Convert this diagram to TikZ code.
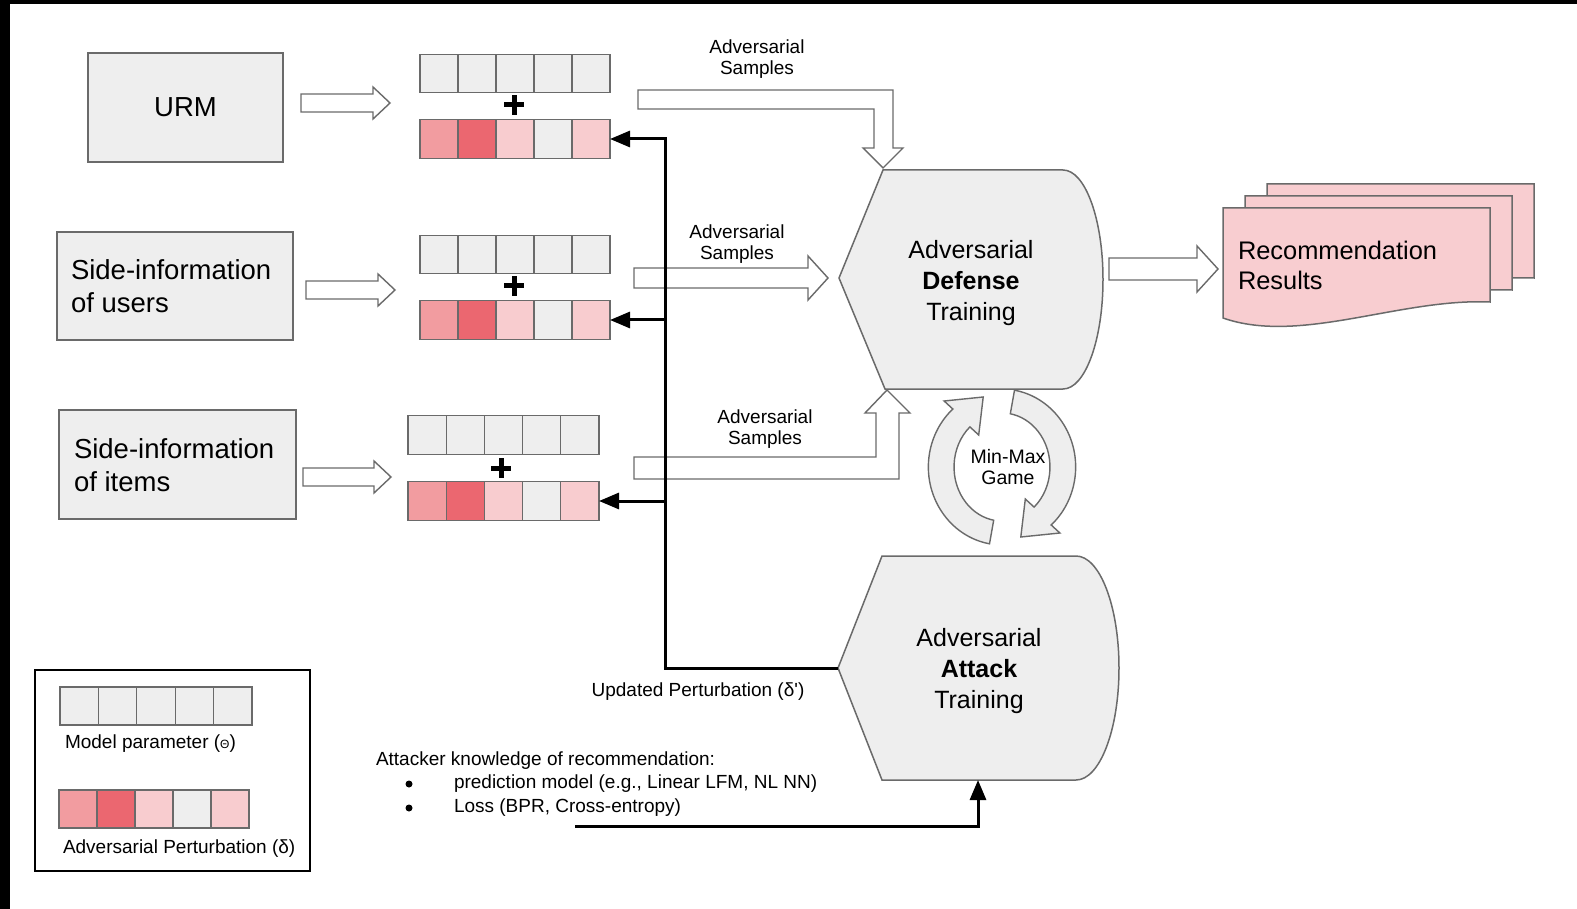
\documentclass[tikz,border=0pt]{standalone}
\usepackage{fontspec}
\setmainfont{Liberation Sans}
\usetikzlibrary{arrows.meta,shapes.misc}

\definecolor{boxfill}{HTML}{EEEEEE}
\definecolor{edge}{HTML}{6A6A6A}
\definecolor{pinkfill}{HTML}{F8CDD0}
\definecolor{redA}{HTML}{F29CA0}
\definecolor{redB}{HTML}{EB6770}
\definecolor{redC}{HTML}{F8CCCF}

\tikzset{
  box/.style={draw=edge, fill=boxfill, line width=1.5pt},
  cell/.style={draw=edge, line width=1.3pt, minimum width=38pt, minimum height=38.5pt},
  hollow/.style={draw=edge, fill=white, line width=1.4pt, line join=miter},
  docshape/.style={draw=edge, fill=pinkfill, line width=1.5pt},
  loopband/.style={draw=edge, fill=boxfill, line width=1.4pt, line join=miter},
  bigtext/.style={font=\fontsize{27.5}{33}\selectfont, align=left},
  midtext/.style={font=\fontsize{25}{31}\selectfont, align=center},
  smalltext/.style={font=\fontsize{19}{21.5}\selectfont, align=center},
  bulletdot/.style={circle, fill=black, minimum size=7pt},
  wire/.style={line width=3pt, draw=black},
  wirehead/.style={-{Triangle[length=20pt,width=16pt]}},
  plusmark/.style={cross out, draw=black, line width=5pt, minimum size=14pt, rotate=45},
}

\begin{document}
\begin{tikzpicture}[x=1pt, y=-1pt, every node/.style={inner sep=0pt, outer sep=0pt}]
\useasboundingbox (0,0) rectangle (1577,909);
\fill[white] (0,0) rectangle (1577,909);
% dark frame strips
\fill[black] (0,0) rectangle (1577,4);
\fill[black] (0,0) rectangle (10,909);

% ---------- input boxes ----------
\node[box, minimum width=195pt, minimum height=109pt, font=\fontsize{27.5}{33}\selectfont] (urm) at (185.5,107.5) {URM};
\node[box, minimum width=236pt, minimum height=108pt] (users) at (175,286) {};
\node[bigtext, anchor=west] (userstxt) at (71,286) {Side-information\\of users};
\node[box, minimum width=237pt, minimum height=109pt] (items) at (177.5,464.5) {};
\node[bigtext, anchor=west] (itemstxt) at (74,465) {Side-information\\of items};

% ---------- hollow input arrows ----------
\draw[hollow] (301,94) -- (373,94) -- (373,87) -- (390,103) -- (373,119) -- (373,112) -- (301,112) -- cycle;
\draw[hollow] (306,281) -- (378,281) -- (378,274) -- (395,290) -- (378,306) -- (378,299) -- (306,299) -- cycle;
\draw[hollow] (303,468) -- (374,468) -- (374,461) -- (391,477) -- (374,493) -- (374,486) -- (303,486) -- cycle;

% ---------- parameter vectors and perturbations ----------
\foreach \c [count=\i] in {boxfill,boxfill,boxfill,boxfill,boxfill}
  \node[cell, fill=\c] (g1t\i) at ({420+(\i-0.5)*38}, 73.5) {};
\foreach \c [count=\i] in {redA,redB,redC,boxfill,redC}
  \node[cell, fill=\c] (g1b\i) at ({420+(\i-0.5)*38}, 139) {};
\node[plusmark] (plus1) at (514,105) {};

\foreach \c [count=\i] in {boxfill,boxfill,boxfill,boxfill,boxfill}
  \node[cell, fill=\c] (g2t\i) at ({420+(\i-0.5)*38}, 254.5) {};
\foreach \c [count=\i] in {redA,redB,redC,boxfill,redC}
  \node[cell, fill=\c] (g2b\i) at ({420+(\i-0.5)*38}, 320) {};
\node[plusmark] (plus2) at (514,286) {};

\foreach \c [count=\i] in {boxfill,boxfill,boxfill,boxfill,boxfill}
  \node[cell, fill=\c, minimum width=38.2pt] (g3t\i) at ({408+(\i-0.5)*38.2}, 435) {};
\foreach \c [count=\i] in {redA,redB,redC,boxfill,redC}
  \node[cell, fill=\c, minimum width=38.2pt] (g3b\i) at ({408+(\i-0.5)*38.2}, 501) {};
\node[plusmark] (plus3) at (501,468) {};

% ---------- adversarial sample arrows ----------
\draw[hollow] (638,90) -- (893,90) -- (893,148) -- (903,148) -- (883,168) -- (863,148) -- (874,148) -- (874,109) -- (638,109) -- cycle;
\draw[hollow] (634,268) -- (808,268) -- (808,256) -- (828,278) -- (808,300) -- (808,288) -- (634,288) -- cycle;
\draw[hollow] (634,457) -- (876,457) -- (876,413) -- (865,413) -- (887,390) -- (910,413) -- (899,413) -- (899,479) -- (634,479) -- cycle;
\node[smalltext] (as1) at (757,59) {Adversarial\\Samples};
\node[smalltext] (as2) at (737,244) {Adversarial\\Samples};
\node[smalltext] (as3) at (765,429) {Adversarial\\Samples};

% ---------- defense and attack blocks ----------
\draw[box] (883,170) -- (1063,170) arc[start angle=-90, end angle=90, x radius=40, y radius=109.5] -- (885,389) -- (839,278) -- cycle;
\node[midtext] (defense) at (971,283) {Adversarial\\\textbf{Defense}\\Training};

\draw[box] (882,556) -- (1076,556) arc[start angle=-90, end angle=90, x radius=43, y radius=112] -- (882,780) -- (838,668) -- cycle;
\node[midtext] (attack) at (979,671.5) {Adversarial\\\textbf{Attack}\\Training};
\coordinate (attL) at (838,668);
\coordinate (attB) at (978,780);

% ---------- min-max loop: two curved block arrows ----------
\begin{scope}[shift={(1002,467)}]
  \draw[loopband] (-12.5,76.8) arc[start angle=100, end angle=228, x radius=74, y radius=78]
    -- (-57.9,-66.0) -- (-18.8,-70.0) -- (-23.3,-32.0) -- (-32.1,-40.1)
    arc[start angle=228, end angle=100, x radius=48, y radius=54] -- cycle;
  \draw[loopband] (12.5,-76.8) arc[start angle=280, end angle=408, x radius=74, y radius=78]
    -- (57.9,66.0) -- (18.8,70.0) -- (23.3,32.0) -- (32.1,40.1)
    arc[start angle=408, end angle=280, x radius=48, y radius=54] -- cycle;
\end{scope}
\node[font=\fontsize{19.5}{20.6}\selectfont, align=center] (minmax) at (1008,467) {Min-Max\\Game};

% ---------- output ----------
\draw[hollow] (1109,258) -- (1197,258) -- (1197,246) -- (1218,269) -- (1197,292) -- (1197,280) -- (1109,280) -- cycle;
\foreach \dx/\dy in {44/-24, 22/-12, 0/0} {
  \begin{scope}[shift={(\dx,\dy)}]
    \draw[docshape] (1223,208) -- (1490,208) -- (1490,302) .. controls (1400,298) and (1300,345) .. (1223,318) -- cycle;
  \end{scope}
}
\node[font=\fontsize{25.4}{30}\selectfont, align=left, anchor=west] (results) at (1238,265) {Recommendation\\Results};

% ---------- perturbation updates ----------
\coordinate (trunk) at (665,668);
\draw[wire, wirehead] (attL) -- (trunk) |- (g1b5.east);
\draw[wire, wirehead] (trunk) |- (g2b5.east);
\draw[wire, wirehead] (trunk) |- (g3b5.east);
\node[smalltext] (upd) at (698,692) {Updated Perturbation (δ\textquotesingle)};

% ---------- attacker knowledge ----------
\node[smalltext, anchor=west] (know) at (376,761) {Attacker knowledge of recommendation:};
\node[bulletdot] (bul1) at (409,784) {};
\node[bulletdot] (bul2) at (409,808) {};
\node[smalltext, anchor=west] (item1) at (454,784) {prediction model (e.g., Linear LFM, NL NN)};
\node[smalltext, anchor=west] (item2) at (454,808) {Loss (BPR, Cross-entropy)};
\coordinate (kstart) at (575,826);
\draw[wire, wirehead] (kstart) -| (attB);

% ---------- legend ----------
\node[draw=black, line width=1.5pt, minimum width=275pt, minimum height=201pt] (legend) at (172.5,770.5) {};
\foreach \c [count=\i] in {boxfill,boxfill,boxfill,boxfill,boxfill}
  \node[cell, fill=\c, minimum width=38.4pt, minimum height=38pt] (lg\i) at ({60+(\i-0.5)*38.4}, 706) {};
\node[smalltext, anchor=west] (lgtxt) at (65,744) {Model parameter ({\fontsize{12}{12}\selectfont Θ})};
\foreach \c [count=\i] in {redA,redB,redC,boxfill,redC}
  \node[cell, fill=\c, minimum height=38pt] (lr\i) at ({59+(\i-0.5)*38}, 809) {};
\node[smalltext, anchor=west] (lrtxt) at (63,849) {Adversarial Perturbation (δ)};
\end{tikzpicture}
\end{document}
